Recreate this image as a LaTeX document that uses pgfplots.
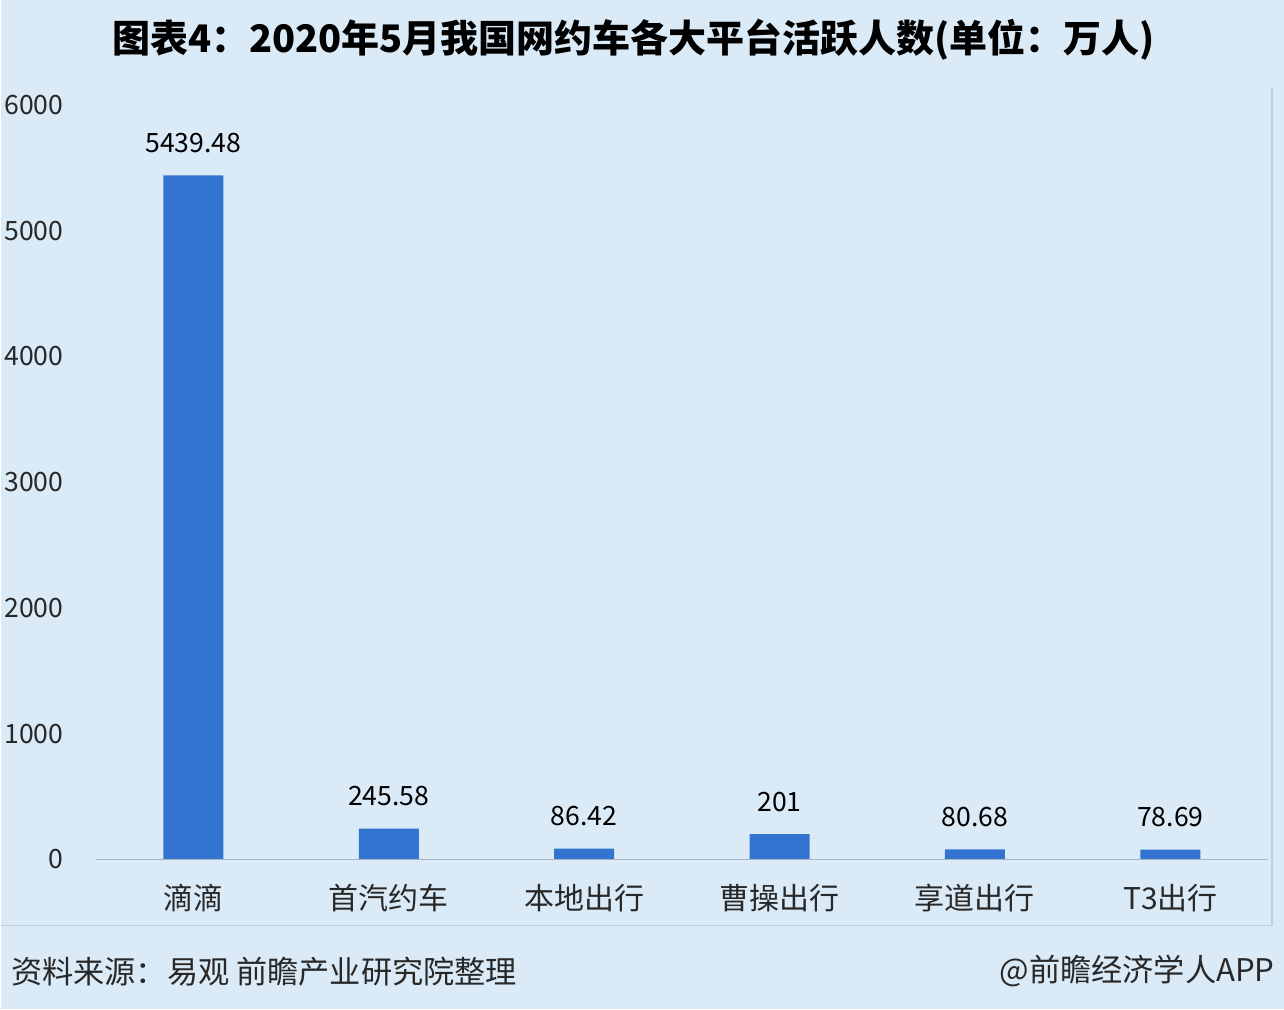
\documentclass[border=0pt]{standalone}
\usepackage{pgfplots}
\pgfplotsset{compat=1.18}
\usepackage{fontspec}
\setmainfont{Noto Sans CJK SC}
\definecolor{bg}{RGB}{218,234,246}
\definecolor{barc}{RGB}{50,116,208}
\definecolor{basec}{RGB}{165,180,194}
\definecolor{framec}{RGB}{190,206,218}
\definecolor{txt}{RGB}{40,40,40}
\begin{document}
\begin{tikzpicture}
\fill[bg] (0,0) rectangle (642pt,505pt);
\draw[framec, line width=0.8pt] (0,42pt) -- (636pt,42pt) -- (636pt,461pt);
\node[font=\fontsize{19}{22}\selectfont\bfseries, text=black, inner sep=0pt] at (316.5pt,485pt) {图表4：2020年5月我国网约车各大平台活跃人数(单位：万人)};
\begin{axis}[
  at={(47.5pt,75pt)}, anchor=south west,
  scale only axis, width=586.5pt, height=377.5pt,
  xmin=-0.5, xmax=5.5, ymin=0, ymax=6000,
  axis line style={draw=none},
  major tick length=0pt,
  ybar, bar width=30pt,
  xtick=data,
  xticklabels={滴滴,首汽约车,本地出行,曹操出行,享道出行,T3出行},
  ytick={0,1000,2000,3000,4000,5000,6000},
  /pgf/number format/assume math mode=true,
  /pgf/number format/1000 sep={},
  yticklabel style={font=\fontsize{13.3}{15}\selectfont, text=txt, inner sep=0pt, anchor=east, xshift=-16pt},
  xticklabel style={font=\fontsize{15}{17}\selectfont, text=txt, inner sep=0pt, anchor=north, yshift=-12pt},
  nodes near coords,
  point meta=explicit symbolic,
  every node near coord/.append style={font=\fontsize{13.3}{15}\selectfont, text=black, inner sep=0pt, anchor=south, yshift=11pt},
  clip=false,
]
\addplot[fill=barc, draw=none] table[meta=lab] {
x y lab
0 5439.48 5439.48
1 245.58 245.58
2 86.42 86.42
3 201 201
4 80.68 80.68
5 78.69 78.69
};
\draw[basec, line width=0.8pt] (rel axis cs:0,0) -- (rel axis cs:1,0);
\end{axis}
\node[font=\fontsize{15.6}{18}\selectfont, text=txt, anchor=west, inner sep=0pt] at (5pt,19pt) {资料来源：易观 前瞻产业研究院整理};
\node[font=\fontsize{15.6}{18}\selectfont, text=txt, anchor=east, inner sep=0pt] at (637.5pt,19pt) {@前瞻经济学人APP};
\end{tikzpicture}
\end{document}
